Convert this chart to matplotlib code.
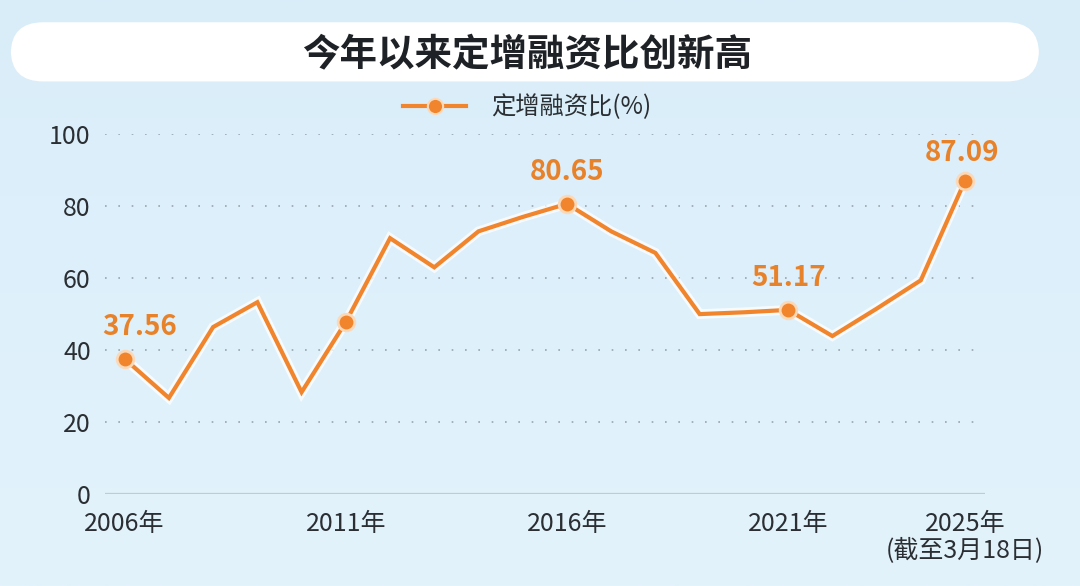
import matplotlib
matplotlib.use("Agg")
import matplotlib.pyplot as plt
import matplotlib.patheffects as pe
from matplotlib.patches import FancyBboxPatch
from matplotlib.lines import Line2D
import numpy as np

plt.rcParams['font.family'] = ['Noto Sans CJK SC', 'DejaVu Sans']

# data (2013-2018 are hidden in the reference, estimated)
years = list(range(2006, 2026))
ratio = [37.56, 26.7, 46.4, 53.3, 28.3, 47.8, 71.1, 63.0, 73.0, 77.0,
         80.65, 73.0, 67.0, 50.0, 50.5, 51.17, 43.9, 51.5, 59.4, 87.09]
marked_years = [2006, 2011, 2016, 2021, 2025]
labelled = {2006: "37.56", 2016: "80.65", 2021: "51.17", 2025: "87.09"}
tick_years = [2006, 2011, 2016, 2021, 2025]
tick_labels = ["2006年", "2011年", "2016年", "2021年", "2025年\n(截至3月18日)"]
y_ticks = [0, 20, 40, 60, 80, 100]

orange = "#f0852d"
label_orange = "#e8822a"
text_dark = "#2b2f33"

fig = plt.figure(figsize=(10.8, 5.86), dpi=100)

# background gradient
bg = fig.add_axes([0, 0, 1, 1], zorder=-10)
grad = np.linspace(0, 1, 256).reshape(-1, 1)
cmap = matplotlib.colors.LinearSegmentedColormap.from_list("bg", ["#d9edf9", "#e3f3fc"])
bg.imshow(grad, aspect="auto", cmap=cmap, extent=[0, 1, 0, 1])
bg.axis("off")

# title box
box = FancyBboxPatch((0.010, 0.861), 0.952, 0.101, transform=fig.transFigure,
                     boxstyle="round,pad=0,rounding_size=0.03", mutation_aspect=1.8,
                     facecolor="white", edgecolor="none", zorder=1)
fig.patches.append(box)
fig.text(0.488, 0.908, "今年以来定增融资比创新高", ha="center", va="center",
         fontsize=27, fontweight="bold", color="#1e2226")

ax = fig.add_axes([0.097, 0.157, 0.815, 0.614])
ax.set_facecolor("none")
ax.set_xlim(2005.55, 2025.45)
ax.set_ylim(0, 100)

for y in y_ticks[1:]:
    ax.axhline(y, color="#9aa4ae", linestyle=(0, (1, 7)), linewidth=1.2, zorder=1)
ax.axhline(0, color="#c4cad0", linewidth=1.6, zorder=1)

glow = [pe.Stroke(linewidth=7, foreground="white", alpha=0.75), pe.Normal()]
ax.plot(years, ratio, color=orange, linewidth=3, solid_joinstyle="miter",
        path_effects=glow, zorder=3)

mx = marked_years
my = [ratio[years.index(y)] for y in mx]
ax.plot(mx, my, linestyle="none", marker="o", markersize=12, color=orange,
        markeredgecolor="#fbd9b8", markeredgewidth=2, zorder=4)

offsets = {2006: (11, 13), 2016: (0, 13), 2021: (0, 13), 2025: (-2, 10)}
for yr, txt in labelled.items():
    val = ratio[years.index(yr)]
    ax.annotate(txt, (yr, val), xytext=offsets[yr], textcoords="offset points",
                ha="center", va="bottom", fontsize=20, fontweight="bold",
                color=label_orange, zorder=5)

ax.set_yticks(y_ticks)
ax.set_yticklabels([str(v) for v in y_ticks], fontsize=18, color=text_dark)
ax.set_xticks(tick_years)
ax.set_xticklabels(tick_labels, fontsize=18, color=text_dark, va="top",
                   linespacing=1.0)
ax.tick_params(axis="both", length=0)
ax.tick_params(axis="x", pad=12)
ax.tick_params(axis="y", pad=10)
for s in ax.spines.values():
    s.set_visible(False)

handle = Line2D([0], [0], color=orange, linewidth=3, marker="o", markersize=11,
                markeredgecolor="#fbd9b8", markeredgewidth=1.5)
fig.legend([handle], ["定增融资比(%)"], loc="center", bbox_to_anchor=(0.488, 0.817),
           frameon=False, fontsize=17.5, handlelength=2.6, handletextpad=1.0,
           labelcolor=text_dark)

fig.savefig("out.png", dpi=100)
